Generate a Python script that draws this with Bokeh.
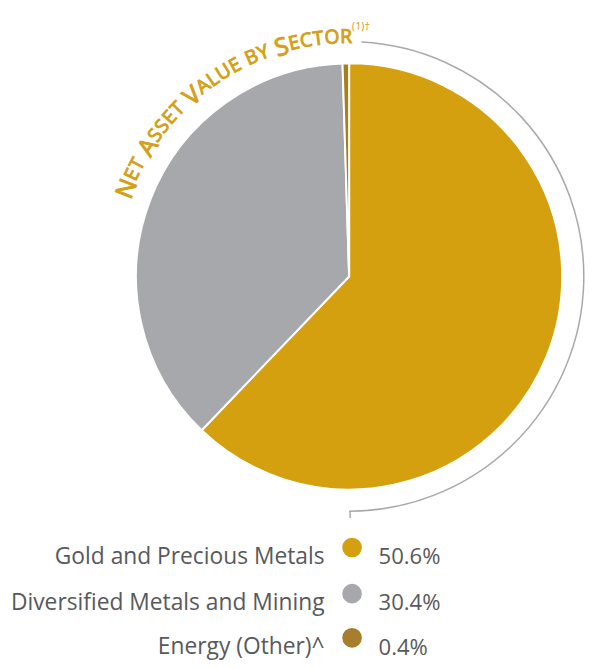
import math
from bokeh.plotting import figure
from bokeh.models import Range1d
from bokeh.core.properties import value
from bokeh.embed import file_html
from bokeh.resources import INLINE

# ---- data ----
categories = ["Gold and Precious Metals", "Diversified Metals and Mining", "Energy (Other)^"]
shares = [50.6, 30.4, 0.4]
pct_labels = ["50.6%", "30.4%", "0.4%"]
colors = ["#D4A010", "#A7A8AB", "#A8801A"]
legend_colors = ["#D4A010", "#A7A8AB", "#A67E2E"]
title_text = "Net Asset Value by Sector"
title_note = "(1)\u2020"

# figure fits the window (593x669 minus the 8px page margin)
W, H = 585, 661
s = 0.982  # screen px per layout unit
p = figure(width=W, height=H, x_range=Range1d(0, W / s), y_range=Range1d(669 - H / s, 669),
           output_backend="svg", toolbar_location=None, min_border=0)
p.axis.visible = False
p.grid.visible = False
p.outline_line_color = None
p.background_fill_color = "white"
p.border_fill_color = "white"

def px(v):
    return f"{v * s:.2f}px"

cx, cy = 355, 388
r_pie = 217

total = sum(shares)
cum = 0.0
starts, ends = [], []
for v in shares:
    starts.append(math.pi / 2 - 2 * math.pi * cum / total)
    cum += v
    ends.append(math.pi / 2 - 2 * math.pi * cum / total)
p.wedge(x=[cx] * 3, y=[cy] * 3, radius=r_pie, start_angle=starts, end_angle=ends,
        direction="clock", fill_color=colors, line_color="white", line_width=2)

# outer arc bracket
r_arc = 239
p.arc(x=cx, y=cy, radius=r_arc, start_angle=math.radians(87), end_angle=-math.pi / 2,
      direction="clock", line_color="#A7A9AC", line_width=1.5)
p.segment(x0=cx + 1, y0=cy - r_arc, x1=cx + 1, y1=cy - r_arc - 7,
          line_color="#A7A9AC", line_width=1.5)

# curved small-caps title
gold_txt = "#D4A017"
big, small = 25, 19.5
em = {"N": .748, "E": .557, "T": .556, "A": .633, "S": .549, "V": .612, "L": .519,
      "U": .735, "B": .648, "Y": .576, "C": .631, "O": .787, "R": .615, " ": .26}
chars = []
for w in title_text.split(" "):
    for i, ch in enumerate(w):
        cap = ch.isupper()
        chars.append((ch.upper(), big if cap else small))
    chars.append((" ", small))
chars = chars[:-1]
track = 1.2
widths = [em[c] * sz + track for c, sz in chars]
centers = []
acc = 0
for wd in widths:
    centers.append(acc + wd / 2)
    acc += wd
r_txt = 245
a_first, a_last = math.radians(158.5), math.radians(90.7)
span = (a_first - a_last) * r_txt
scale = span / (centers[-1] - centers[0])
for (c, sz), cpos in zip(chars, centers):
    if c == " ":
        continue
    a = a_first - (cpos - centers[0]) * scale / r_txt
    p.text(x=[cx + r_txt * math.cos(a)], y=[cy + r_txt * math.sin(a)], text=[c],
           angle=a - math.pi / 2, text_align="center", text_baseline="alphabetic",
           text_font=value("Open Sans"), text_font_size=px(sz),
           text_font_style="normal", text_color=gold_txt,
           text_outline_color=gold_txt)
a_n = math.radians(87.3)
p.text(x=[cx + 256 * math.cos(a_n)], y=[cy + 256 * math.sin(a_n)], text=[title_note],
       angle=a_n - math.pi / 2, text_align="center", text_baseline="alphabetic",
       text_font=value("Open Sans"), text_font_size=px(11), text_color=gold_txt)

# legend
base_y = [104, 57, 12]
p.text(x=[330] * 3, y=base_y, text=categories, text_align="right", text_baseline="alphabetic",
       text_font=value("Open Sans"), text_font_size=px(23.2), text_color="#58595B")
p.scatter(x=[358] * 3, y=[b + 8 for b in base_y], size=20 * s, marker="circle",
          fill_color=legend_colors, line_color=None)
p.text(x=[385] * 3, y=base_y, text=pct_labels, text_align="left", text_baseline="alphabetic",
       text_font=value("Open Sans"), text_font_size=px(22.5), text_color="#58595B")

open("out.html", "w").write(file_html(p, INLINE))
